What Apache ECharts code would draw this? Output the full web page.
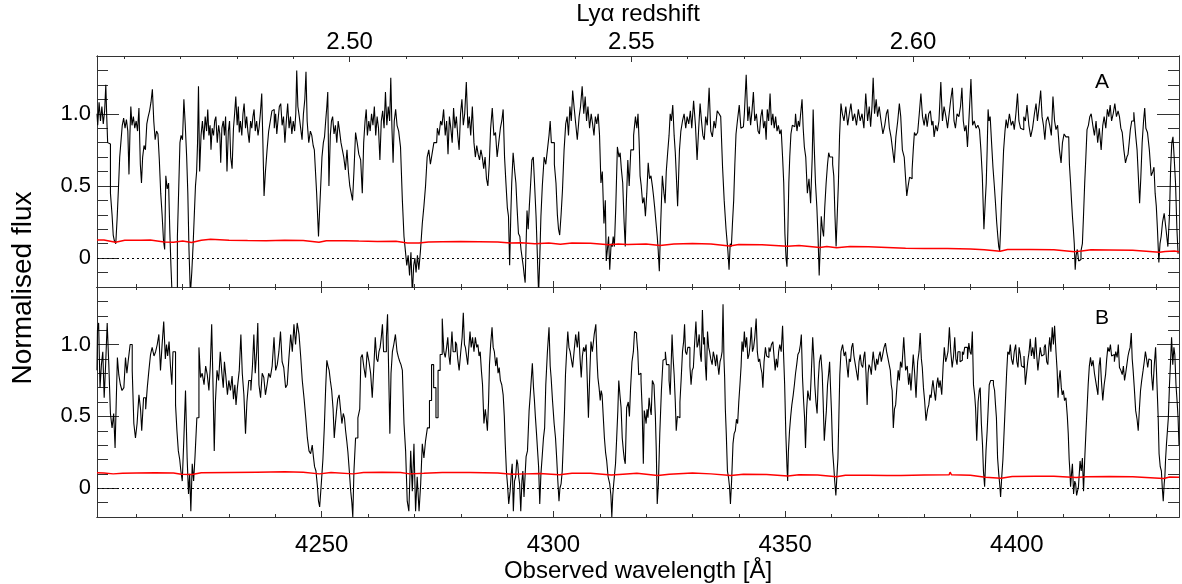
<!DOCTYPE html>
<html><head><meta charset="utf-8">
<script src="https://cdn.jsdelivr.net/npm/echarts@6/dist/echarts.min.js"></script>
<style>html,body{margin:0;padding:0;background:#fff}#c{width:1182px;height:584px}</style>
</head><body><div id="c"></div>
<script>
// ---------- data (wavelength [Å], normalised flux) ----------
const specA = [
[4201.5,1.00],[4201.8,0.92],[4202.1,1.08],[4202.4,0.95],[4202.7,1.05],[4203.0,0.93],[4203.3,1.02],[4203.5,1.20],[4203.7,0.98],[4203.9,0.80],[4204.2,0.79],[4204.6,0.45],[4204.9,0.30],[4205.1,0.16],[4205.4,0.12],[4205.7,0.10],[4206.0,0.28],[4206.3,0.50],[4206.5,0.70],[4206.8,0.80],
[4207.1,0.92],[4207.4,0.97],[4207.7,0.90],[4208.0,0.96],[4208.3,0.88],[4208.5,0.58],[4208.7,0.85],[4208.9,1.05],[4209.2,0.92],[4209.5,0.98],[4209.8,0.90],[4210.1,0.95],[4210.4,0.88],[4210.7,1.04],[4211.0,0.65],[4211.2,0.52],[4211.5,0.70],[4211.8,0.78],[4212.1,0.75],[4212.4,0.93],
[4212.7,0.98],[4213.0,1.02],[4213.3,1.08],[4213.6,1.17],[4213.9,0.95],[4214.2,0.82],[4214.5,0.88],[4214.8,0.86],[4215.1,0.68],[4215.4,0.45],[4215.7,0.30],[4216.0,0.12],[4216.2,0.06],[4216.5,0.57],[4216.8,0.48],[4217.1,0.52],[4217.3,0.20],[4217.6,-0.05],[4217.8,-0.25],[4218.1,-0.25],
[4218.4,-0.25],[4218.7,-0.25],[4219.0,0.15],[4219.3,0.50],[4219.5,0.80],[4219.8,0.85],[4220.1,0.82],[4220.4,1.10],[4220.7,0.92],[4221.0,0.70],[4221.2,0.45],[4221.5,0.06],[4221.8,-0.25],[4222.1,-0.10],[4222.4,0.10],[4222.6,0.30],[4222.9,0.50],[4223.1,0.60],[4223.3,0.80],[4223.5,1.19],
[4223.8,0.60],[4224.1,0.85],[4224.4,0.95],[4224.7,0.82],[4225.0,0.98],[4225.3,0.88],[4225.5,1.03],[4225.8,0.85],[4226.0,0.92],[4226.2,0.75],[4226.5,0.90],[4226.8,0.85],[4227.0,0.95],[4227.3,0.98],[4227.6,0.80],[4227.9,0.92],[4228.1,0.86],[4228.3,0.66],[4228.6,0.90],[4228.9,0.95],
[4229.1,0.85],[4229.4,0.98],[4229.7,0.60],[4230.0,0.88],[4230.2,0.95],[4230.5,0.70],[4230.8,0.62],[4231.1,0.90],[4231.3,1.00],[4231.6,1.12],[4231.9,0.92],[4232.1,1.05],[4232.3,0.87],[4232.6,0.95],[4232.9,0.85],[4233.1,1.00],[4233.4,1.07],[4233.7,0.90],[4233.9,0.98],[4234.2,0.88],
[4234.5,0.80],[4234.8,0.95],[4235.0,0.90],[4235.3,0.98],[4235.5,1.03],[4235.8,0.88],[4236.1,0.95],[4236.4,0.85],[4236.6,0.91],[4236.9,1.00],[4237.2,1.14],[4237.4,0.80],[4237.7,0.43],[4238.0,0.60],[4238.4,0.75],[4238.7,0.88],[4239.1,0.95],[4239.4,1.02],[4239.6,1.03],[4239.9,0.90],
[4240.2,1.00],[4240.4,0.86],[4240.7,0.95],[4241.0,1.05],[4241.3,1.07],[4241.6,0.92],[4241.9,0.98],[4242.2,0.80],[4242.5,0.95],[4242.8,1.07],[4243.1,0.90],[4243.4,0.98],[4243.7,0.86],[4244.0,0.95],[4244.3,0.88],[4244.5,1.00],[4244.7,1.30],[4245.0,1.05],[4245.3,0.98],[4245.6,0.90],
[4245.9,0.82],[4246.2,1.00],[4246.5,1.10],[4246.7,1.29],[4247.0,0.95],[4247.4,0.80],[4247.7,0.88],[4248.0,0.85],[4248.3,0.78],[4248.5,0.75],[4248.8,0.60],[4249.0,0.45],[4249.2,0.30],[4249.4,0.15],[4249.6,0.30],[4249.9,0.48],[4250.2,0.70],[4250.5,0.80],[4250.7,0.84],[4251.0,0.95],
[4251.2,1.05],[4251.4,1.15],[4251.7,0.50],[4252.0,0.85],[4252.2,0.95],[4252.5,0.98],[4252.8,0.86],[4253.1,0.92],[4253.4,0.80],[4253.7,0.95],[4254.0,0.88],[4254.3,0.80],[4254.6,0.75],[4254.9,0.70],[4255.3,0.61],[4255.6,0.75],[4255.9,0.60],[4256.2,0.50],[4256.5,0.45],[4256.8,0.40],
[4257.1,0.60],[4257.5,0.87],[4257.8,0.80],[4258.2,0.72],[4258.6,0.68],[4258.9,0.45],[4259.2,0.80],[4259.5,0.95],[4259.7,1.03],[4260.0,0.85],[4260.3,0.95],[4260.6,0.88],[4260.9,1.00],[4261.2,0.92],[4261.5,1.05],[4261.8,0.85],[4262.1,0.98],[4262.4,0.90],[4262.7,0.68],[4263.0,0.95],
[4263.3,1.02],[4263.6,0.90],[4263.9,1.15],[4264.2,0.92],[4264.5,1.05],[4264.8,0.95],[4265.0,1.25],[4265.3,0.90],[4265.5,0.66],[4265.8,0.95],[4266.1,1.03],[4266.4,0.92],[4266.8,0.88],[4267.2,0.77],[4267.6,0.40],[4267.9,0.15],[4268.2,0.05],[4268.5,-0.05],[4268.8,0.02],[4269.1,-0.12],
[4269.4,0.04],[4269.7,-0.25],[4270.0,-0.05],[4270.2,0.00],[4270.5,-0.10],[4270.8,0.02],[4271.1,-0.08],[4271.5,0.05],[4271.9,0.24],[4272.2,0.36],[4272.6,0.50],[4272.9,0.70],[4273.3,0.75],[4273.6,0.65],[4274.0,0.72],[4274.4,0.80],[4274.8,0.80],[4275.1,0.90],[4275.5,0.85],[4275.8,0.95],
[4276.1,0.92],[4276.5,1.03],[4276.8,0.85],[4277.1,0.95],[4277.4,0.72],[4277.7,0.98],[4278.0,0.90],[4278.3,0.80],[4278.6,1.04],[4278.9,0.90],[4279.2,0.98],[4279.5,0.85],[4279.8,0.75],[4280.1,1.00],[4280.4,1.10],[4280.7,0.92],[4281.0,1.00],[4281.4,1.22],[4281.7,0.90],[4282.0,0.98],
[4282.3,0.85],[4282.7,1.05],[4283.0,0.80],[4283.3,0.70],[4283.6,0.78],[4283.9,0.72],[4284.2,0.68],[4284.5,0.75],[4284.8,0.70],[4285.1,0.62],[4285.4,0.70],[4285.7,0.55],[4286.0,0.50],[4286.3,0.65],[4286.6,0.90],[4287.0,1.04],[4287.3,0.85],[4287.7,0.87],[4288.0,0.70],[4288.4,0.80],
[4288.7,0.90],[4289.0,0.95],[4289.3,1.03],[4289.6,0.70],[4289.9,0.52],[4290.2,0.35],[4290.4,0.29],[4290.7,-0.05],[4290.9,0.30],[4291.1,0.52],[4291.5,0.73],[4291.8,0.60],[4292.0,0.52],[4292.3,0.35],[4292.6,0.17],[4292.9,0.15],[4293.1,0.06],[4293.4,0.00],[4293.6,-0.06],[4293.8,-0.12],
[4294.0,-0.17],[4294.2,0.10],[4294.4,0.33],[4294.7,0.20],[4294.9,0.36],[4295.2,0.50],[4295.5,0.68],[4295.8,0.70],[4296.1,0.50],[4296.4,0.29],[4296.7,0.00],[4296.9,-0.25],[4297.2,0.00],[4297.4,0.29],[4297.8,0.50],[4298.2,0.70],[4298.5,0.65],[4298.9,0.75],[4299.2,0.85],[4299.4,0.95],
[4299.7,0.80],[4300.0,0.80],[4300.4,0.65],[4300.7,0.52],[4301.0,0.30],[4301.2,0.20],[4301.5,0.16],[4301.8,0.30],[4302.1,0.47],[4302.5,0.75],[4302.8,0.93],[4303.1,0.98],[4303.4,0.85],[4303.7,1.05],[4304.0,0.95],[4304.3,1.16],[4304.6,1.05],[4304.9,0.95],[4305.4,0.82],[4305.7,0.98],
[4306.0,1.05],[4306.4,1.19],[4306.7,1.00],[4307.0,1.12],[4307.3,0.95],[4307.6,1.05],[4308.0,0.90],[4308.3,1.00],[4308.6,0.93],[4308.9,0.85],[4309.2,0.98],[4309.5,0.93],[4309.8,1.00],[4310.1,0.85],[4310.4,0.52],[4310.7,0.60],[4311.1,0.24],[4311.3,0.40],[4311.5,-0.02],[4311.8,0.06],
[4312.0,0.15],[4312.3,-0.08],[4312.6,0.10],[4312.8,0.08],[4313.0,0.15],[4313.3,0.08],[4313.6,0.35],[4314.0,0.77],[4314.3,0.70],[4314.5,0.73],[4314.8,0.62],[4315.1,0.52],[4315.4,0.25],[4315.6,0.08],[4315.9,0.40],[4316.2,0.68],[4316.5,0.50],[4316.9,0.75],[4317.1,0.75],[4317.5,0.85],
[4317.9,0.98],[4318.1,0.90],[4318.4,1.00],[4318.6,0.80],[4318.8,0.57],[4319.1,0.50],[4319.4,0.38],[4319.7,0.42],[4320.0,0.29],[4320.3,0.45],[4320.6,0.66],[4320.9,0.55],[4321.2,0.57],[4321.5,0.50],[4321.7,0.43],[4322.0,0.35],[4322.3,0.24],[4322.5,0.15],[4322.7,0.06],[4323.0,-0.09],
[4323.3,0.24],[4323.7,0.57],[4324.0,0.45],[4324.2,0.38],[4324.5,0.60],[4324.8,0.73],[4325.1,0.85],[4325.3,1.00],[4325.6,0.95],[4325.9,1.06],[4326.2,0.85],[4326.4,0.73],[4326.7,0.55],[4326.9,0.36],[4327.1,0.55],[4327.3,0.75],[4327.7,0.88],[4328.0,0.95],[4328.4,1.00],[4328.7,0.90],
[4329.0,0.98],[4329.4,0.93],[4329.7,1.02],[4330.0,0.90],[4330.5,1.09],[4330.8,0.92],[4331.2,0.68],[4331.5,0.90],[4331.8,1.07],[4332.1,0.95],[4332.4,0.85],[4332.7,0.82],[4333.0,0.98],[4333.4,0.92],[4333.8,1.18],[4334.1,0.88],[4334.5,0.84],[4334.8,0.95],[4335.1,0.90],[4335.6,1.02],
[4335.9,1.00],[4336.3,0.98],[4336.7,0.63],[4337.0,0.40],[4337.5,0.20],[4337.8,0.05],[4338.0,-0.08],[4338.3,0.10],[4338.5,0.08],[4338.8,0.25],[4339.0,0.40],[4339.3,0.65],[4339.5,0.86],[4339.9,0.95],[4340.3,1.06],[4340.6,0.90],[4341.0,0.91],[4341.4,1.00],[4341.8,1.27],[4342.1,0.95],
[4342.4,1.05],[4342.7,0.92],[4343.0,1.02],[4343.3,1.15],[4343.6,0.95],[4344.0,1.00],[4344.3,0.88],[4344.6,0.86],[4344.9,0.98],[4345.2,1.03],[4345.5,0.90],[4345.8,0.95],[4346.0,0.82],[4346.3,1.03],[4346.6,0.95],[4346.9,1.14],[4347.2,0.92],[4347.5,1.00],[4347.8,0.90],[4348.1,0.98],
[4348.4,0.88],[4348.7,0.92],[4349.0,0.86],[4349.3,0.89],[4349.6,0.70],[4349.8,0.52],[4350.1,0.17],[4350.3,0.00],[4350.5,-0.06],[4350.7,0.20],[4350.9,0.52],[4351.1,0.70],[4351.4,0.86],[4351.7,0.92],[4352.1,0.91],[4352.4,1.00],[4352.7,0.88],[4353.0,0.95],[4353.2,0.91],[4353.5,1.00],
[4353.8,1.10],[4354.0,0.90],[4354.3,0.77],[4354.6,0.70],[4355.0,0.45],[4355.3,0.55],[4355.7,0.38],[4356.0,0.70],[4356.1,1.03],[4356.4,0.80],[4356.7,0.52],[4357.0,0.35],[4357.2,0.15],[4357.5,-0.12],[4357.7,0.10],[4357.9,0.29],[4358.2,0.20],[4358.4,0.15],[4358.7,0.35],[4359.0,0.52],
[4359.3,0.65],[4359.5,0.73],[4359.8,0.70],[4360.1,0.70],[4360.4,0.65],[4360.6,0.57],[4360.9,0.30],[4361.1,0.08],[4361.4,0.30],[4361.6,0.52],[4361.9,0.85],[4362.2,1.07],[4362.5,1.00],[4362.9,0.95],[4363.3,1.05],[4363.7,0.92],[4364.0,1.00],[4364.4,1.07],[4364.8,0.95],[4365.2,1.00],
[4365.6,0.92],[4366.0,1.03],[4366.4,0.95],[4366.8,1.00],[4367.2,0.90],[4367.6,1.14],[4368.0,0.95],[4368.3,1.05],[4368.6,0.91],[4368.9,1.05],[4369.1,1.25],[4369.5,1.00],[4369.8,1.10],[4370.1,0.98],[4370.5,1.05],[4370.9,0.95],[4371.3,0.86],[4371.7,0.92],[4372.0,1.00],[4372.3,1.03],
[4372.7,0.90],[4373.0,0.84],[4373.4,0.75],[4373.7,0.66],[4374.1,0.84],[4374.5,0.95],[4374.8,1.07],[4375.1,0.98],[4375.5,0.75],[4375.9,0.70],[4376.1,0.55],[4376.4,0.43],[4376.7,0.50],[4377.0,0.56],[4377.3,0.55],[4377.5,0.61],[4377.8,0.75],[4378.0,0.87],[4378.4,0.85],[4378.8,0.87],
[4379.1,1.00],[4379.5,1.14],[4379.8,0.98],[4380.2,0.92],[4380.5,1.00],[4380.8,0.91],[4381.2,1.00],[4381.5,1.02],[4381.8,0.92],[4382.0,0.95],[4382.3,0.84],[4382.7,0.92],[4383.0,0.88],[4383.4,0.95],[4383.8,1.22],[4384.1,0.95],[4384.5,1.05],[4384.9,0.98],[4385.2,0.90],[4385.6,1.00],
[4385.9,1.10],[4386.3,1.18],[4386.6,0.95],[4386.9,0.90],[4387.3,1.00],[4387.7,0.98],[4388.0,1.05],[4388.3,1.18],[4388.6,0.95],[4388.9,0.88],[4389.2,0.92],[4389.5,0.77],[4389.9,0.98],[4390.3,1.24],[4390.6,0.92],[4391.0,0.95],[4391.4,0.90],[4391.8,0.92],[4392.1,0.89],[4392.4,0.75],
[4392.7,0.57],[4393.1,0.20],[4393.3,0.40],[4393.5,0.52],[4393.7,0.75],[4393.9,1.03],[4394.1,0.95],[4394.4,0.98],[4394.7,0.80],[4395.0,0.63],[4395.3,0.50],[4395.5,0.38],[4395.8,0.25],[4396.0,0.15],[4396.2,0.08],[4396.4,0.05],[4396.6,0.20],[4396.8,0.40],[4397.0,0.55],[4397.3,0.75],
[4397.6,0.88],[4397.8,0.96],[4398.2,0.90],[4398.6,1.00],[4399.0,0.92],[4399.3,0.95],[4399.6,0.89],[4400.0,1.00],[4400.3,1.14],[4400.6,0.95],[4401.0,0.90],[4401.3,0.89],[4401.7,0.98],[4402.0,0.95],[4402.4,1.06],[4402.8,0.92],[4403.2,0.84],[4403.6,0.90],[4404.0,1.00],[4404.3,1.07],
[4404.6,0.95],[4405.0,1.05],[4405.3,1.16],[4405.6,0.98],[4405.9,0.92],[4406.2,0.82],[4406.5,0.95],[4406.9,0.98],[4407.3,0.92],[4407.6,0.85],[4408.0,1.12],[4408.3,0.95],[4408.6,0.89],[4409.0,0.92],[4409.4,0.75],[4409.7,0.66],[4410.0,0.80],[4410.4,0.86],[4410.8,0.84],[4411.2,0.84],
[4411.5,0.65],[4411.7,0.52],[4411.9,0.40],[4412.1,0.29],[4412.3,0.20],[4412.5,0.10],[4412.7,-0.08],[4412.9,0.02],[4413.2,0.06],[4413.5,-0.02],[4413.7,-0.01],[4414.0,0.05],[4414.3,0.10],[4414.5,0.30],[4414.8,0.52],[4415.0,0.70],[4415.3,0.89],[4415.6,0.92],[4415.9,0.98],[4416.2,1.00],
[4416.6,0.92],[4416.9,0.85],[4417.3,0.95],[4417.6,0.80],[4418.0,0.90],[4418.4,0.75],[4418.7,0.92],[4419.0,0.98],[4419.4,0.90],[4419.7,1.03],[4420.0,0.98],[4420.3,1.06],[4420.6,0.95],[4421.0,1.00],[4421.3,1.07],[4421.7,0.98],[4422.0,1.02],[4422.3,0.98],[4422.6,0.90],[4422.9,0.87],
[4423.3,0.75],[4423.6,0.66],[4423.9,0.70],[4424.1,0.72],[4424.4,0.80],[4424.6,0.89],[4425.0,0.95],[4425.5,1.01],[4425.8,0.85],[4426.1,0.75],[4426.4,0.55],[4426.6,0.38],[4426.9,0.55],[4427.2,0.80],[4427.5,0.95],[4427.7,1.04],[4428.0,0.90],[4428.4,0.87],[4428.8,0.75],[4429.2,0.57],
[4429.5,0.60],[4429.7,0.63],[4430.0,0.45],[4430.2,0.36],[4430.5,0.20],[4430.8,-0.03],[4431.0,0.10],[4431.3,0.15],[4431.6,0.25],[4432.0,0.31],[4432.4,0.20],[4432.8,0.08],[4433.1,0.30],[4433.3,0.63],[4433.6,0.80],[4433.8,0.84],[4434.1,0.70],[4434.4,0.52],[4434.7,0.20],[4434.9,0.03]
];
const errA = [
[4201.5,0.126],[4203,0.125],[4205.5,0.110],[4207.5,0.124],[4211,0.123],[4213,0.125],[4216,0.112],[4218,0.110],[4220,0.118],[4221.9,0.108],[4224,0.124],[4226,0.130],[4230,0.124],[4234,0.122],[4238,0.121],[4242,0.123],[4246,0.122],[4249.4,0.110],[4251,0.121],[4255,0.120],
[4258,0.118],[4262,0.116],[4266,0.117],[4268.5,0.104],[4271,0.104],[4273,0.112],[4276,0.114],[4280,0.115],[4284,0.114],[4288,0.112],[4290.7,0.105],[4293,0.106],[4296,0.100],[4299,0.104],[4301.5,0.096],[4304,0.105],[4308,0.103],[4312,0.092],[4314,0.098],[4316,0.094],
[4318,0.096],[4320,0.097],[4323,0.088],[4326,0.098],[4330,0.102],[4334,0.098],[4338,0.084],[4340,0.094],[4345,0.093],[4350.5,0.082],[4353,0.088],[4357.5,0.074],[4359,0.080],[4361.1,0.072],[4364,0.080],[4368,0.078],[4372,0.074],[4376,0.068],[4380,0.066],[4385,0.066],
[4390,0.064],[4393,0.058],[4396.4,0.048],[4398,0.060],[4403,0.060],[4408,0.058],[4412.5,0.045],[4414,0.050],[4416,0.058],[4420,0.057],[4425,0.054],[4430.8,0.040],[4432,0.046],[4434,0.050],[4435,0.044]
];
const specB = [
[4201.5,0.82],[4201.7,1.10],[4202.0,1.15],[4202.3,0.70],[4202.6,0.86],[4202.9,0.95],[4203.2,0.63],[4203.5,0.85],[4203.9,1.15],[4204.2,0.86],[4204.6,0.52],[4204.9,0.42],[4205.3,0.52],[4205.5,0.28],[4205.8,0.60],[4206.0,0.91],[4206.4,0.79],[4206.7,0.72],[4207.1,0.68],[4207.5,0.70],
[4207.8,0.91],[4208.1,0.80],[4208.4,0.89],[4208.9,1.00],[4209.3,0.82],[4209.6,0.45],[4210.0,0.35],[4210.3,0.45],[4210.8,0.65],[4211.0,0.55],[4211.3,0.40],[4211.8,0.63],[4212.2,0.55],[4212.5,0.70],[4212.9,0.82],[4213.2,0.93],[4213.6,0.98],[4214.0,0.92],[4214.3,0.95],[4214.7,1.00],
[4215.0,1.07],[4215.4,0.82],[4215.7,1.00],[4216.1,1.16],[4216.4,0.90],[4216.6,1.00],[4216.9,0.92],[4217.2,1.02],[4217.5,0.85],[4217.8,0.72],[4218.0,0.95],[4218.3,0.95],[4218.6,0.58],[4218.9,0.40],[4219.2,0.26],[4219.5,0.20],[4219.7,0.12],[4220.1,0.05],[4220.4,0.35],[4220.8,0.68],
[4221.1,0.21],[4221.4,-0.04],[4221.6,0.10],[4221.9,-0.16],[4222.2,0.17],[4222.5,0.05],[4222.8,0.22],[4223.3,0.49],[4223.7,0.98],[4224.0,0.77],[4224.4,0.80],[4224.8,0.72],[4225.1,0.85],[4225.5,0.79],[4225.8,0.68],[4226.1,0.85],[4226.4,1.14],[4226.7,0.70],[4226.9,0.26],[4227.2,0.60],
[4227.6,0.82],[4227.9,0.75],[4228.3,0.95],[4228.6,0.80],[4228.9,0.70],[4229.1,0.88],[4229.5,0.78],[4229.8,0.65],[4230.1,0.75],[4230.5,0.68],[4230.8,0.78],[4231.1,0.62],[4231.4,0.72],[4231.6,0.58],[4232.0,0.70],[4232.4,0.82],[4232.7,1.07],[4233.0,0.80],[4233.4,0.65],[4233.7,0.38],
[4234.0,0.60],[4234.5,0.75],[4234.9,0.68],[4235.2,0.85],[4235.5,1.07],[4235.8,0.80],[4236.1,0.95],[4236.3,1.15],[4236.6,0.72],[4237.0,0.63],[4237.3,0.80],[4237.7,0.77],[4238.0,0.65],[4238.4,0.72],[4238.7,0.80],[4239.1,0.77],[4239.5,0.85],[4239.9,1.05],[4240.2,0.82],[4240.6,0.86],
[4240.9,0.95],[4241.3,1.09],[4241.6,0.88],[4242.0,0.84],[4242.4,0.70],[4242.7,0.72],[4243.1,0.90],[4243.5,1.07],[4243.8,0.95],[4244.2,1.14],[4244.5,1.00],[4244.9,1.15],[4245.3,1.07],[4245.6,0.92],[4246.0,0.75],[4246.4,0.62],[4246.7,0.49],[4247.1,0.35],[4247.4,0.26],[4247.8,0.24],
[4248.1,0.30],[4248.3,0.22],[4248.6,0.15],[4248.9,0.12],[4249.2,0.02],[4249.4,-0.09],[4249.7,-0.13],[4250.1,0.03],[4250.4,0.20],[4250.7,0.42],[4251.0,0.70],[4251.2,0.89],[4251.5,0.85],[4251.7,0.82],[4252.0,0.75],[4252.3,0.68],[4252.6,0.55],[4252.8,0.35],[4253.1,0.45],[4253.3,0.54],
[4253.6,0.62],[4253.9,0.65],[4254.2,0.55],[4254.5,0.45],[4254.8,0.52],[4255.0,0.49],[4255.3,0.40],[4255.5,0.33],[4255.8,0.25],[4256.1,0.12],[4256.4,-0.02],[4256.6,-0.10],[4256.8,-0.20],[4257.1,0.12],[4257.5,0.35],[4258.1,0.49],[4258.3,0.55],[4258.6,0.91],[4258.9,0.93],[4259.3,0.84],
[4259.6,0.77],[4260.0,0.95],[4260.4,0.88],[4260.7,0.80],[4261.1,0.63],[4261.4,0.85],[4261.7,1.05],[4262.0,0.90],[4262.2,0.88],[4262.5,0.95],[4262.7,0.98],[4263.0,1.05],[4263.2,1.14],[4263.5,0.95],[4263.8,0.95],[4264.1,1.05],[4264.3,1.21],[4264.6,0.80],[4264.8,0.38],[4265.1,0.80],
[4265.4,0.95],[4265.7,1.00],[4266.1,1.07],[4266.4,0.95],[4266.7,0.91],[4267.0,0.88],[4267.2,0.86],[4267.6,0.82],[4267.9,0.45],[4268.3,0.26],[4268.6,-0.09],[4269.0,-0.16],[4269.4,0.26],[4269.7,-0.02],[4270.1,0.31],[4270.4,-0.16],[4270.8,0.08],[4271.2,-0.16],[4271.5,0.03],[4271.9,0.31],
[4272.2,0.21],[4272.6,0.33],[4273.0,0.42],[4273.5,0.61],[4273.9,0.86],[4274.4,0.70],[4274.9,0.49],[4275.3,0.82],[4275.8,0.93],[4276.2,1.18],[4276.5,0.95],[4276.8,0.91],[4277.1,0.98],[4277.3,1.05],[4277.6,0.92],[4277.8,0.86],[4278.0,0.98],[4278.2,1.09],[4278.5,0.95],[4278.7,0.95],
[4279.0,1.02],[4279.2,1.00],[4279.5,0.90],[4279.8,0.82],[4280.2,0.95],[4280.4,1.05],[4280.7,1.22],[4280.9,1.00],[4281.1,0.98],[4281.4,0.92],[4281.6,0.86],[4281.9,0.98],[4282.1,1.09],[4282.4,0.98],[4282.7,1.05],[4283.0,0.95],[4283.3,1.05],[4283.6,0.98],[4283.8,1.00],[4284.1,0.92],
[4284.3,0.95],[4284.6,0.82],[4284.8,0.72],[4285.2,0.45],[4285.4,0.55],[4285.6,0.49],[4285.9,0.40],[4286.1,0.60],[4286.3,0.86],[4286.6,1.00],[4286.9,1.12],[4287.1,0.98],[4287.4,0.95],[4287.7,0.85],[4287.9,0.91],[4288.2,0.80],[4288.4,0.84],[4288.7,0.75],[4289.0,0.72],[4289.3,0.65],
[4289.5,0.50],[4289.7,0.31],[4290.0,0.12],[4290.2,0.02],[4290.5,-0.11],[4290.8,-0.02],[4291.0,0.10],[4291.2,0.17],[4291.5,-0.16],[4291.7,0.05],[4292.0,0.08],[4292.2,0.20],[4292.4,0.17],[4292.6,0.08],[4292.8,0.03],[4293.1,-0.16],[4293.3,0.05],[4293.5,0.12],[4293.8,-0.06],[4294.0,0.10],
[4294.2,0.22],[4294.6,0.26],[4294.9,0.54],[4295.1,0.65],[4295.3,0.75],[4295.6,0.87],[4295.8,0.70],[4296.0,0.61],[4296.2,0.50],[4296.5,0.38],[4296.7,0.25],[4296.9,0.15],[4297.2,-0.11],[4297.4,0.10],[4297.7,0.21],[4298.0,0.35],[4298.2,0.42],[4298.5,0.72],[4298.9,0.95],[4299.2,1.12],
[4299.4,0.85],[4299.6,0.77],[4300.0,0.61],[4300.3,0.45],[4300.6,0.35],[4300.8,0.21],[4301.1,0.05],[4301.3,-0.09],[4301.5,0.00],[4301.8,0.03],[4302.0,0.12],[4302.3,0.33],[4302.5,0.55],[4302.7,0.79],[4303.0,0.95],[4303.2,1.09],[4303.5,0.98],[4303.7,0.95],[4304.0,0.90],[4304.3,0.84],
[4304.6,0.95],[4305.0,1.07],[4305.3,0.98],[4305.6,1.09],[4305.9,0.90],[4306.1,0.77],[4306.4,0.92],[4306.6,0.98],[4306.9,0.95],[4307.2,1.00],[4307.4,0.75],[4307.7,0.49],[4308.0,0.80],[4308.2,1.02],[4308.6,0.95],[4309.0,1.07],[4309.3,1.14],[4309.5,0.90],[4309.7,0.77],[4310.0,0.70],
[4310.2,0.61],[4310.4,0.68],[4310.6,0.65],[4310.9,0.50],[4311.1,0.35],[4311.4,0.25],[4311.6,0.19],[4312.0,0.08],[4312.3,0.03],[4312.5,-0.05],[4312.7,-0.20],[4312.9,-0.05],[4313.1,0.03],[4313.3,0.10],[4313.5,0.17],[4313.8,0.35],[4314.0,0.54],[4314.2,0.75],[4314.5,0.65],[4314.7,0.56],
[4315.0,0.35],[4315.2,0.26],[4315.4,0.20],[4315.6,0.17],[4316.0,0.56],[4316.3,0.60],[4316.5,0.50],[4316.8,0.70],[4317.1,0.88],[4317.4,0.95],[4317.6,1.09],[4317.8,1.08],[4318.1,1.05],[4318.3,0.95],[4318.5,0.79],[4318.8,0.80],[4319.0,0.75],[4319.3,0.55],[4319.5,0.17],[4319.7,0.54],
[4319.9,0.50],[4320.1,0.45],[4320.3,0.55],[4320.5,0.49],[4320.8,0.63],[4321.0,0.55],[4321.2,0.51],[4321.5,0.75],[4321.9,0.72],[4322.1,0.50],[4322.3,0.26],[4322.5,-0.11],[4322.8,0.03],[4323.1,0.38],[4323.5,0.68],[4323.8,0.89],[4324.0,0.90],[4324.3,0.95],[4324.5,0.86],[4324.8,0.86],
[4325.1,0.75],[4325.3,0.65],[4325.5,0.85],[4325.7,1.07],[4325.9,0.92],[4326.2,0.79],[4326.4,0.60],[4326.6,0.40],[4326.9,0.50],[4327.2,0.49],[4327.4,0.60],[4327.7,0.75],[4328.0,0.95],[4328.2,1.02],[4328.4,1.14],[4328.6,0.95],[4328.9,0.93],[4329.1,0.98],[4329.3,0.98],[4329.6,0.85],
[4329.8,0.72],[4330.1,0.82],[4330.3,0.84],[4330.6,1.00],[4330.9,1.16],[4331.1,0.98],[4331.3,1.00],[4331.6,1.07],[4331.8,0.93],[4332.0,0.88],[4332.3,1.24],[4332.5,1.00],[4332.7,1.05],[4332.9,0.85],[4333.1,0.75],[4333.4,1.09],[4333.6,0.98],[4333.8,0.95],[4334.1,0.90],[4334.4,0.86],
[4334.6,0.95],[4334.9,0.91],[4335.1,0.85],[4335.4,0.93],[4335.6,0.85],[4335.8,0.79],[4336.1,0.88],[4336.3,0.91],[4336.5,0.95],[4336.7,1.28],[4336.9,0.90],[4337.0,0.77],[4337.2,0.55],[4337.4,0.38],[4337.7,0.12],[4337.9,0.07],[4338.1,0.01],[4338.3,-0.11],[4338.6,0.05],[4338.9,0.31],
[4339.1,0.38],[4339.4,0.40],[4339.6,0.48],[4339.9,0.45],[4340.1,0.60],[4340.4,0.72],[4340.6,0.85],[4340.8,1.02],[4341.1,0.95],[4341.3,1.09],[4341.6,0.98],[4341.8,1.05],[4342.1,0.90],[4342.3,0.93],[4342.6,1.00],[4342.8,1.12],[4343.1,0.95],[4343.3,0.98],[4343.6,1.05],[4343.9,1.18],
[4344.1,0.95],[4344.4,0.88],[4344.6,0.90],[4344.9,0.84],[4345.1,0.80],[4345.3,0.70],[4345.6,0.88],[4345.9,0.98],[4346.1,0.92],[4346.4,0.91],[4346.6,0.98],[4346.9,0.95],[4347.2,1.00],[4347.5,1.02],[4347.7,0.92],[4348.0,0.82],[4348.2,0.90],[4348.5,0.84],[4348.7,0.95],[4349.0,1.00],
[4349.3,0.95],[4349.6,1.13],[4349.8,0.90],[4350.0,0.72],[4350.3,0.38],[4350.5,0.15],[4350.6,0.05],[4350.8,0.25],[4351.1,0.40],[4351.3,0.50],[4351.6,0.58],[4351.9,0.65],[4352.1,0.72],[4352.4,0.80],[4352.6,0.86],[4352.9,0.93],[4353.2,0.95],[4353.4,1.00],[4353.6,1.07],[4353.9,0.77],
[4354.1,0.60],[4354.3,0.49],[4354.5,0.28],[4354.8,0.55],[4355.0,0.68],[4355.3,0.63],[4355.5,0.61],[4355.8,0.80],[4356.1,1.05],[4356.3,0.90],[4356.5,0.72],[4356.8,0.60],[4357.0,0.52],[4357.3,0.75],[4357.5,0.88],[4357.9,0.93],[4358.1,0.80],[4358.3,0.61],[4358.6,0.33],[4358.8,0.45],
[4359.0,0.54],[4359.3,0.72],[4359.5,0.80],[4359.7,0.88],[4359.9,0.70],[4360.1,0.54],[4360.4,0.26],[4360.6,0.15],[4360.8,0.05],[4361.1,-0.05],[4361.3,0.10],[4361.5,0.21],[4361.7,0.50],[4361.9,0.79],[4362.2,0.95],[4362.6,1.00],[4362.9,0.92],[4363.2,0.95],[4363.5,0.85],[4363.7,0.77],
[4364.0,0.90],[4364.2,0.88],[4364.5,0.98],[4364.7,1.01],[4365.0,0.92],[4365.3,0.86],[4365.6,0.80],[4365.8,0.75],[4366.1,0.88],[4366.3,0.93],[4366.6,0.86],[4366.9,0.84],[4367.1,0.92],[4367.3,0.95],[4367.6,0.80],[4367.8,0.58],[4368.0,0.80],[4368.2,0.86],[4368.5,0.84],[4368.7,0.79],
[4368.9,0.88],[4369.1,0.95],[4369.4,0.88],[4369.6,0.82],[4369.9,0.90],[4370.1,0.86],[4370.4,0.92],[4370.6,0.95],[4370.9,0.88],[4371.2,0.93],[4371.5,0.98],[4371.8,1.01],[4372.0,0.95],[4372.3,0.91],[4372.6,0.86],[4372.8,0.82],[4373.0,0.72],[4373.2,0.68],[4373.5,0.42],[4373.7,0.55],
[4374.0,0.58],[4374.3,0.72],[4374.5,0.82],[4374.8,0.75],[4375.0,0.88],[4375.4,0.84],[4375.8,1.05],[4376.2,0.82],[4376.5,0.85],[4376.8,0.72],[4377.0,0.80],[4377.3,0.68],[4377.5,0.80],[4377.8,0.93],[4378.1,0.80],[4378.4,0.63],[4378.8,0.88],[4379.0,0.95],[4379.3,1.08],[4379.5,0.90],
[4379.7,0.84],[4380.0,0.70],[4380.2,0.61],[4380.6,0.47],[4380.9,0.55],[4381.1,0.58],[4381.4,0.65],[4381.6,0.63],[4381.8,0.70],[4382.0,0.75],[4382.3,0.68],[4382.6,0.61],[4382.8,0.72],[4383.1,0.77],[4383.3,0.70],[4383.6,0.75],[4384.0,0.65],[4384.2,0.85],[4384.5,0.98],[4384.8,0.88],
[4385.0,0.91],[4385.3,0.95],[4385.6,1.12],[4385.9,0.95],[4386.2,0.84],[4386.5,0.92],[4386.7,1.05],[4387.0,0.90],[4387.2,0.86],[4387.4,0.95],[4387.6,0.95],[4387.9,0.88],[4388.1,0.89],[4388.4,0.95],[4388.6,0.93],[4388.9,0.98],[4389.2,0.98],[4389.5,0.90],[4389.8,1.01],[4390.0,0.95],
[4390.3,0.93],[4390.5,1.09],[4390.8,0.72],[4391.0,0.65],[4391.2,0.56],[4391.5,0.33],[4391.8,0.60],[4392.0,0.68],[4392.2,0.70],[4392.5,0.45],[4392.7,0.30],[4392.9,0.12],[4393.2,0.01],[4393.5,0.26],[4393.7,0.40],[4393.9,0.54],[4394.2,0.72],[4394.5,0.75],[4394.8,0.75],[4395.1,0.72],
[4395.3,0.68],[4395.5,0.58],[4395.7,0.49],[4396.0,0.21],[4396.2,0.10],[4396.4,0.03],[4396.6,-0.06],[4396.9,0.08],[4397.1,0.20],[4397.3,0.35],[4397.5,0.50],[4397.7,0.65],[4397.9,0.80],[4398.2,0.95],[4398.5,0.93],[4398.7,1.00],[4399.0,0.90],[4399.3,0.86],[4399.6,0.95],[4399.9,1.00],
[4400.1,0.88],[4400.4,0.84],[4400.6,0.98],[4400.9,0.93],[4401.1,0.85],[4401.4,0.84],[4401.7,0.92],[4402.0,0.72],[4402.2,0.80],[4402.5,0.88],[4402.8,0.95],[4403.0,1.04],[4403.3,0.92],[4403.6,0.98],[4403.9,0.90],[4404.2,1.05],[4404.4,0.92],[4404.7,0.82],[4404.9,0.90],[4405.2,0.98],
[4405.5,0.92],[4405.8,0.93],[4406.0,0.98],[4406.3,1.00],[4406.6,0.88],[4406.8,0.86],[4407.0,0.98],[4407.2,1.05],[4407.5,0.95],[4407.8,1.12],[4408.0,1.00],[4408.3,1.13],[4408.6,0.95],[4408.8,0.82],[4409.0,0.63],[4409.2,0.75],[4409.5,0.82],[4409.7,0.70],[4409.9,0.65],[4410.2,0.68],
[4410.4,0.61],[4410.8,0.63],[4411.0,0.50],[4411.2,0.38],[4411.4,0.20],[4411.5,0.12],[4411.7,0.01],[4411.9,0.10],[4412.1,0.17],[4412.4,-0.04],[4412.6,0.05],[4412.8,0.03],[4413.0,-0.05],[4413.2,-0.06],[4413.4,0.01],[4413.5,0.00],[4413.8,0.19],[4414.0,0.12],[4414.3,0.21],[4414.5,-0.02],
[4414.8,0.20],[4415.0,0.38],[4415.3,0.55],[4415.5,0.72],[4415.8,0.85],[4416.0,0.91],[4416.3,0.85],[4416.6,0.89],[4416.9,0.80],[4417.1,0.75],[4417.4,0.70],[4417.6,0.65],[4417.9,0.85],[4418.1,0.91],[4418.4,0.75],[4418.7,0.61],[4419.0,0.72],[4419.3,0.79],[4419.5,0.90],[4419.8,0.98],
[4420.1,0.95],[4420.3,1.00],[4420.6,0.92],[4420.9,0.93],[4421.2,0.88],[4421.5,0.95],[4421.8,0.91],[4422.0,1.00],[4422.3,0.84],[4422.6,0.82],[4422.9,0.79],[4423.1,0.85],[4423.4,0.75],[4423.6,0.80],[4423.9,0.86],[4424.1,0.92],[4424.3,0.95],[4424.6,0.98],[4424.8,1.08],[4425.0,0.90],
[4425.2,0.82],[4425.5,0.70],[4425.8,0.54],[4426.1,0.48],[4426.3,0.40],[4426.6,0.55],[4426.8,0.68],[4427.1,0.75],[4427.4,0.82],[4427.6,0.88],[4427.9,0.95],[4428.1,0.90],[4428.4,0.84],[4428.6,0.90],[4428.9,0.89],[4429.2,0.80],[4429.5,0.68],[4429.8,0.85],[4430.1,0.98],[4430.4,0.72],
[4430.6,0.50],[4430.8,0.24],[4431.1,0.15],[4431.3,0.12],[4431.5,0.00],[4431.7,-0.09],[4431.9,0.03],[4432.0,0.08],[4432.2,0.20],[4432.4,0.31],[4432.6,0.40],[4432.8,0.49],[4433.1,0.72],[4433.3,0.90],[4433.5,1.05],[4433.8,0.86],[4434.0,0.98],[4434.2,0.93],[4434.5,0.72],[4434.7,0.60],
[4434.9,0.49],[4435.1,0.30]
];
const errB = [
[4201.5,0.108],[4203,0.106],[4205,0.100],[4207,0.104],[4210,0.106],[4214,0.108],[4218,0.106],[4219.7,0.098],[4222,0.096],[4224,0.108],[4230,0.110],[4236,0.112],[4242,0.114],[4246,0.112],[4249.5,0.100],[4252,0.110],[4256.8,0.100],[4259,0.110],[4263,0.112],[4267,0.110],
[4269,0.100],[4272,0.104],[4276,0.110],[4282,0.110],[4288,0.106],[4291,0.098],[4294,0.100],[4297,0.102],[4301.3,0.094],[4304,0.104],[4308,0.104],[4312.5,0.092],[4315,0.098],[4318,0.104],[4322.5,0.088],[4325,0.098],[4330,0.106],[4334,0.100],[4338.3,0.088],[4341,0.098],
[4346,0.095],[4350.6,0.086],[4353,0.094],[4357,0.092],[4361.1,0.080],[4363,0.090],[4368,0.090],[4372,0.088],[4375,0.088],[4380,0.092],[4385.4,0.094],[4385.6,0.112],[4385.9,0.094],[4390,0.090],[4393.2,0.076],[4396.6,0.070],[4399,0.082],[4404,0.084],[4408,0.084],[4412.8,0.074],
[4415,0.080],[4420,0.082],[4425,0.080],[4431.7,0.068],[4433,0.078],[4435,0.076]
];
// ---------- axes ----------
const waveRange = [4201.5, 4435];
const fluxRange = [-0.2, 1.4];
const lyaRest = 1216.0;
const waveMinorTicks = [4210,4220,4230,4240,4260,4270,4280,4290,4310,4320,4330,4340,4360,4370,4380,4390,4410,4420,4430];
const waveMajorTicks = [4250,4300,4350,4400];
const zMinorTicks = [2.46,2.47,2.48,2.49,2.51,2.52,2.53,2.54,2.56,2.57,2.58,2.59,2.61,2.62,2.63,2.64];
const zMajorTicks = [2.50,2.55,2.60];
const fluxMinorTicks = [-0.1,0.1,0.2,0.3,0.4,0.6,0.7,0.8,0.9,1.1,1.2,1.3];
const fluxMajorTicks = [0,0.5,1.0];
const panelLabels = ['A','B'];
const xTitle = 'Observed wavelength [Å]';
const zTitle = 'Lyα redshift';
const yTitle = 'Normalised flux';

const FONT = 'Liberation Sans, Arial, Helvetica, sans-serif';
const AXC = '#333';
const zRange = [waveRange[0]/lyaRest - 1, waveRange[1]/lyaRest - 1];

function ax(gridIndex, position, range, ticks, len, label, extra) {
  const o = {
    type: 'value', gridIndex, position, min: range[0], max: range[1],
    splitLine: {show: false},
    axisLine: {show: true, onZero: false, lineStyle: {color: AXC, width: 1}},
    axisTick: {show: true, inside: true, length: len, customValues: ticks, lineStyle: {color: AXC, width: 1}},
    axisLabel: label ? Object.assign({show: true, customValues: ticks, color: '#000', fontFamily: FONT}, label) : {show: false}
  };
  return Object.assign(o, extra || {});
}

const xAxes = [
  ax(0,'bottom',waveRange,waveMinorTicks,3),          // 0 (series A)
  ax(0,'bottom',waveRange,waveMajorTicks,6),          // 1
  ax(0,'top',zRange,zMinorTicks,3),                   // 2
  ax(0,'top',zRange,zMajorTicks,6,{fontSize:24, margin:2, formatter:v=>v.toFixed(2)},
     {name: zTitle, nameLocation:'middle', nameGap:30, nameTextStyle:{fontSize:24, fontFamily:FONT, color:'#000'}}), // 3
  ax(1,'top',waveRange,waveMinorTicks,3),             // 4
  ax(1,'top',waveRange,waveMajorTicks,6),             // 5
  ax(1,'bottom',waveRange,waveMinorTicks,3),          // 6 (series B)
  ax(1,'bottom',waveRange,waveMajorTicks,6,{fontSize:24, margin:16, formatter:v=>String(v)},
     {name: xTitle, nameLocation:'middle', nameGap:42, nameTextStyle:{fontSize:24, fontFamily:FONT, color:'#000'}}) // 7
];
const yLab = {fontSize:22, margin:6, formatter: v => (v === 0 ? '0' : v.toFixed(1))};
const yAxes = [];
[0,1].forEach(g => {
  yAxes.push(ax(g,'left',fluxRange,fluxMajorTicks,22,yLab));
  yAxes.push(ax(g,'left',fluxRange,fluxMinorTicks,11));
  yAxes.push(ax(g,'right',fluxRange,fluxMajorTicks,22));
  yAxes.push(ax(g,'right',fluxRange,fluxMinorTicks,11));
});

const zeroLine = {
  silent: true, symbol: ['none','none'], label: {show: false},
  lineStyle: {color: '#000', width: 1, type: [2, 3]},
  data: [{yAxis: 0}]
};

const option = {
  animation: false,
  backgroundColor: '#fff',
  grid: [
    {left: 97, top: 56, width: 1082, height: 231},
    {left: 97, top: 287, width: 1082, height: 232}
  ],
  xAxis: xAxes,
  yAxis: yAxes,
  graphic: [
    {type:'text', x:1102, y:82, style:{text: panelLabels[0], font:'21px '+FONT, fill:'#000', textAlign:'center', textVerticalAlign:'middle'}},
    {type:'text', x:1102, y:318, style:{text: panelLabels[1], font:'21px '+FONT, fill:'#000', textAlign:'center', textVerticalAlign:'middle'}},
    {type:'text', x:23, y:288, rotation: Math.PI/2, style:{text: yTitle, font:'28px '+FONT, fill:'#000', textAlign:'center', textVerticalAlign:'middle'}}
  ],
  series: [
    {type:'line', xAxisIndex:0, yAxisIndex:0, data: specA, step:'middle', showSymbol:false, lineStyle:{color:'#000', width:1.1}, z:2},
    {type:'line', xAxisIndex:0, yAxisIndex:0, data: errA, showSymbol:false, lineStyle:{color:'#f00', width:1.5}, z:3, markLine: zeroLine},
    {type:'line', xAxisIndex:6, yAxisIndex:4, data: specB, step:'middle', showSymbol:false, lineStyle:{color:'#000', width:1.1}, z:2},
    {type:'line', xAxisIndex:6, yAxisIndex:4, data: errB, showSymbol:false, lineStyle:{color:'#f00', width:1.5}, z:3, markLine: zeroLine}
  ]
};
const chart = echarts.init(document.getElementById('c'), null, {renderer:'canvas'});
chart.setOption(option);
</script></body></html>
